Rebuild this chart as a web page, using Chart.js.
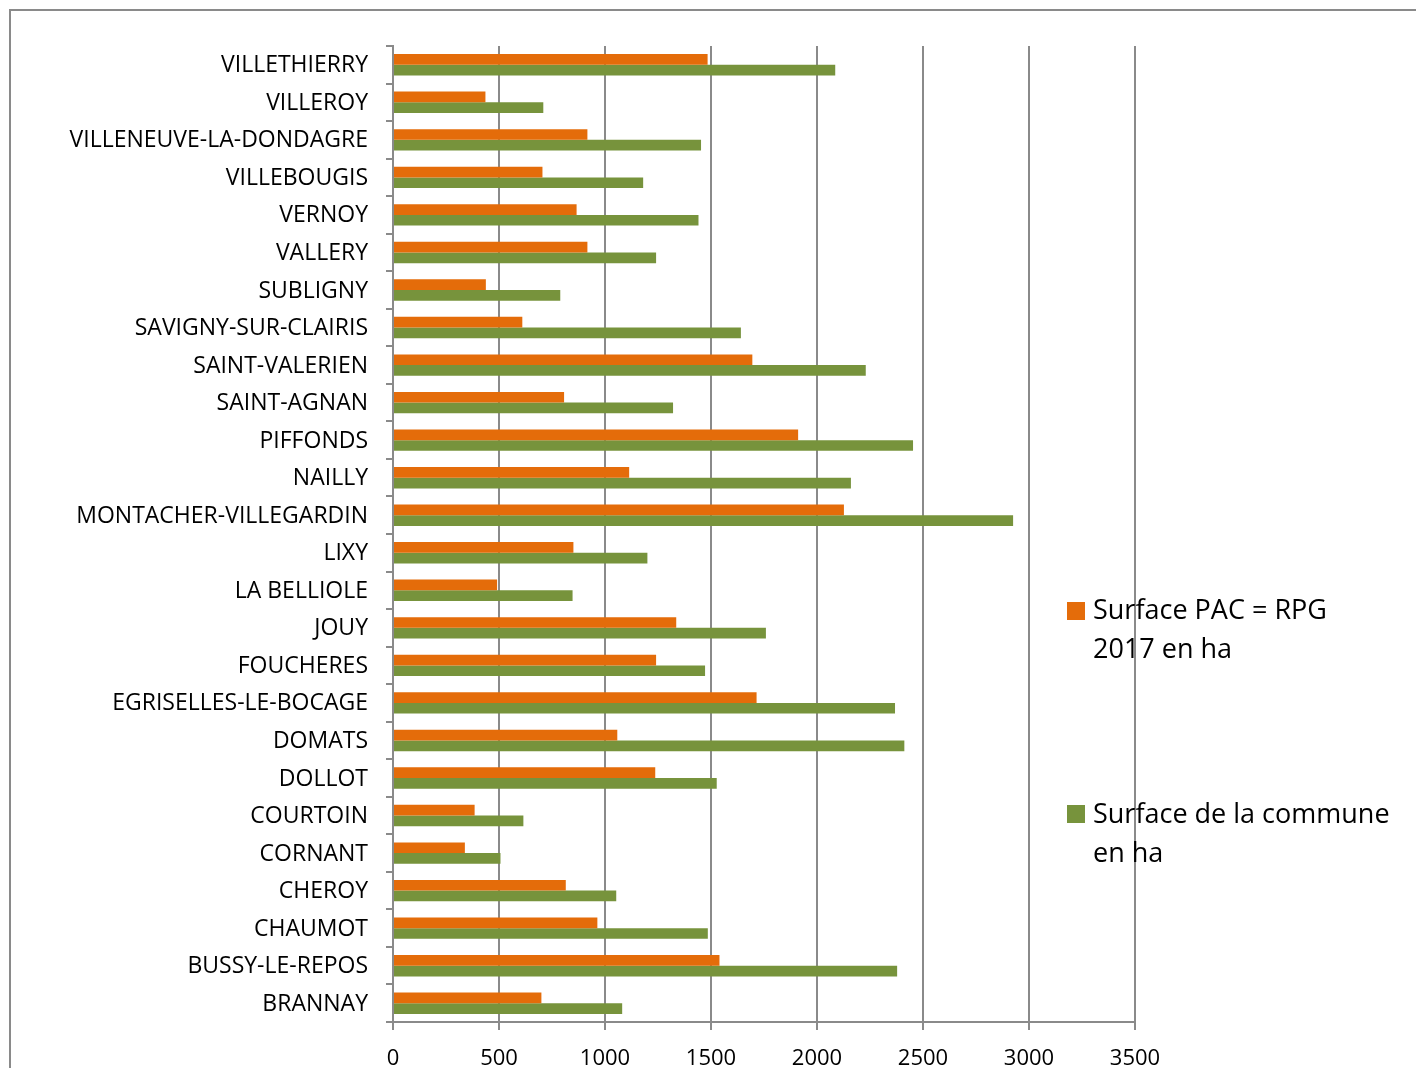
<!DOCTYPE html>
<html>
<head>
<meta charset="utf-8">
<script src="https://cdn.jsdelivr.net/npm/chart.js@4/dist/chart.umd.min.js"></script>
<style>
  body { margin: 0; background: #fff; }
  #wrap { position: relative; width: 1416px; height: 1068px; overflow: hidden; }
  .leg { position: absolute; left: 1067px; font-family: "Open Sans", sans-serif; font-size: 27px; line-height: 39px; color: #000; }
  .leg .box { position: absolute; left: 0; width: 18px; height: 18px; }
  .leg .txt { position: absolute; left: 26px; white-space: nowrap; }
</style>
</head>
<body>
<div id="wrap">
  <canvas id="myChart" width="1416" height="1068"></canvas>
  <div class="leg" style="top:589px">
    <div class="box" style="top:13px;background:#E46C0A"></div>
    <div class="txt">Surface PAC = RPG<br>2017 en ha</div>
  </div>
  <div class="leg" style="top:793px">
    <div class="box" style="top:12px;background:#77933C"></div>
    <div class="txt">Surface de la commune<br>en ha</div>
  </div>
</div>
<script>
var communes = ['VILLETHIERRY', 'VILLEROY', 'VILLENEUVE-LA-DONDAGRE', 'VILLEBOUGIS', 'VERNOY',
    'VALLERY', 'SUBLIGNY', 'SAVIGNY-SUR-CLAIRIS', 'SAINT-VALERIEN', 'SAINT-AGNAN',
    'PIFFONDS', 'NAILLY', 'MONTACHER-VILLEGARDIN', 'LIXY', 'LA BELLIOLE', 'JOUY',
    'FOUCHERES', 'EGRISELLES-LE-BOCAGE', 'DOMATS', 'DOLLOT', 'COURTOIN', 'CORNANT',
    'CHEROY', 'CHAUMOT', 'BUSSY-LE-REPOS', 'BRANNAY'];

// Surface PAC = RPG 2017 en ha
var surfacePac = [1484, 436, 917, 705, 866, 917, 438, 610, 1695, 807,
    1911, 1114, 2127, 851, 491, 1336, 1241, 1715, 1058, 1237, 385, 339,
    815, 964, 1540, 700];

// Surface de la commune en ha
var surfaceCommune = [2086, 709, 1453, 1180, 1441, 1241, 789, 1641, 2230, 1321,
    2453, 2160, 2925, 1200, 847, 1759, 1472, 2368, 2412, 1527, 615, 507,
    1053, 1485, 2378, 1081];

var xTicks = [0, 500, 1000, 1500, 2000, 2500, 3000, 3500];

var gris = '#8a8a8a';
var police = '"Open Sans", sans-serif';

// cadre gris autour du graphique
var cadre = {
    id: 'cadre',
    beforeDraw: function (chart) {
        var c = chart.ctx;
        c.save();
        c.strokeStyle = '#8a8a8a';
        c.lineWidth = 2;
        c.beginPath();
        c.moveTo(10, 1100);
        c.lineTo(10, 10);
        c.lineTo(1420, 10);
        c.stroke();
        c.restore();
    }
};

var ctx = document.getElementById('myChart');
var myChart = new Chart(ctx, {
    type: 'bar',
    data: {
        labels: communes,
        datasets: [{
            label: 'Surface PAC = RPG 2017 en ha',
            data: surfacePac,
            backgroundColor: '#E46C0A',
            borderWidth: 0
        }, {
            label: 'Surface de la commune en ha',
            data: surfaceCommune,
            backgroundColor: '#77933C',
            borderWidth: 0
        }]
    },
    options: {
        indexAxis: 'y',
        responsive: false,
        animation: false,
        datasets: {
            bar: { categoryPercentage: 0.57, barPercentage: 1 }
        },
        layout: {
            padding: { left: 0, top: 46, right: 281, bottom: 0 }
        },
        plugins: {
            legend: { display: false },
            tooltip: { enabled: false }
        },
        scales: {
            x: {
                min: 0,
                max: 3500,
                afterBuildTicks: function (scale) {
                    scale.ticks = xTicks.map(function (v) { return { value: v }; });
                },
                afterFit: function (scale) { scale.height = 46; },
                grid: { color: gris, lineWidth: 2, tickLength: 8, drawTicks: true },
                border: { color: gris, width: 2 },
                ticks: {
                    color: '#000',
                    padding: 16,
                    maxRotation: 0,
                    callback: function (v) { return String(v); },
                    font: { family: police, size: 22 }
                }
            },
            y: {
                afterFit: function (scale) { scale.width = 393; },
                grid: { drawOnChartArea: false, color: gris, lineWidth: 2, tickLength: 7 },
                border: { color: gris, width: 2 },
                ticks: {
                    color: '#000',
                    padding: 18,
                    labelOffset: 1,
                    autoSkip: false,
                    font: { family: police, size: 23 }
                }
            }
        }
    },
    plugins: [cadre]
});
</script>
</body>
</html>
